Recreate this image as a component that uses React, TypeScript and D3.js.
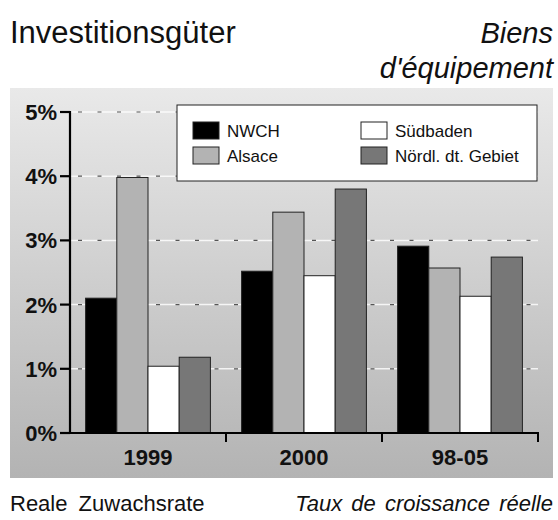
import React from 'react';
import * as d3 from 'd3';

const categories = ['1999', '2000', '98-05'];
const seriesNames = ['NWCH', 'Alsace', 'Südbaden', 'Nördl. dt. Gebiet'];
const nwch = [2.1, 2.52, 2.91];
const alsace = [3.98, 3.44, 2.57];
const suedbaden = [1.04, 2.45, 2.13];
const noerdl = [1.18, 3.8, 2.74];
const yTicks = [0, 1, 2, 3, 4, 5];

const seriesValues = [nwch, alsace, suedbaden, noerdl];
const colors = ['#000000', '#b3b3b3', '#ffffff', '#777777'];

const W = 558;
const H = 520;
const font = '"Liberation Sans", Arial, Helvetica, sans-serif';

const App = () => {
  const x0 = d3.scaleBand().domain(categories).range([70, 538]).paddingInner(0).paddingOuter(0);
  const x1 = d3.scaleBand().domain(seriesNames).range([0, x0.bandwidth()]).paddingInner(0).paddingOuter(0.5);
  const y = d3.scaleLinear().domain([0, 5]).range([433, 112]);

  // legend: two columns, two rows
  const legendItems = seriesNames.map((name, i) => ({
    name,
    color: colors[i],
    x: i < 2 ? 193 : 361,
    y: 122 + (i % 2) * 25,
  }));

  return (
    <svg width={W} height={H} style={{ position: 'absolute', left: 0, top: 0, fontFamily: font }}>
      <defs>
        <linearGradient id="bg" x1="0" y1="0" x2="0" y2="1">
          <stop offset="0%" stopColor="#e9e9e9" />
          <stop offset="100%" stopColor="#b3b3b3" />
        </linearGradient>
      </defs>
      <rect x={0} y={0} width={W} height={H} fill="#fff" />

      {/* titles */}
      <text x={10} y={43} fontSize={31} fill="#111">Investitionsgüter</text>
      <text x={553} y={43} fontSize={29} fontStyle="italic" textAnchor="end" fill="#111">Biens</text>
      <text x={553} y={78} fontSize={29} fontStyle="italic" textAnchor="end" fill="#111">d'équipement</text>

      <rect x={10} y={88} width={543} height={390} fill="url(#bg)" />

      {/* gridlines */}
      {yTicks.filter(t => t > 0).map(t => (
        <g key={t}>
          <line x1={70} x2={538} y1={y(t)} y2={y(t)} stroke="#ffffff" strokeOpacity={0.8} strokeWidth={1.5} />
          <line x1={70} x2={538} y1={y(t)} y2={y(t)} stroke="#555" strokeWidth={1.2} strokeDasharray="4,15.5" strokeDashoffset={-8} />
        </g>
      ))}

      {/* legend */}
      <rect x={177} y={105} width={360} height={76} fill="#fff" stroke="#222" strokeWidth={1} />
      {legendItems.map(d => (
        <g key={d.name}>
          <rect x={d.x} y={d.y} width={26} height={17} fill={d.color} stroke="#222" strokeWidth={1} />
          <text x={d.x + 34} y={d.y + 14.5} fontSize={17} fill="#111">{d.name}</text>
        </g>
      ))}

      {/* bars */}
      {categories.map((c, ci) => (
        <g key={c} transform={`translate(${x0(c)},0)`}>
          {seriesNames.map((s, si) => {
            const v = seriesValues[si][ci];
            return (
              <rect
                key={s}
                x={x1(s)}
                y={y(v)}
                width={x1.bandwidth()}
                height={y(0) - y(v)}
                fill={colors[si]}
                stroke="#222"
                strokeWidth={1}
              />
            );
          })}
        </g>
      ))}

      {/* axes */}
      <line x1={70} x2={70} y1={y(5) - 1} y2={y(0) + 1} stroke="#000" strokeWidth={2.2} />
      <line x1={69} x2={539} y1={y(0)} y2={y(0)} stroke="#000" strokeWidth={2.2} />
      {yTicks.map(t => (
        <g key={t}>
          <line x1={60} x2={70} y1={y(t)} y2={y(t)} stroke="#000" strokeWidth={2.2} />
          <text x={57} y={y(t) + 8} fontSize={22} fontWeight="bold" textAnchor="end" fill="#111">{`${t}%`}</text>
        </g>
      ))}
      {categories.map(c => (
        <g key={c}>
          <line x1={(x0(c) as number) + x0.bandwidth()} x2={(x0(c) as number) + x0.bandwidth()} y1={y(0)} y2={y(0) + 9} stroke="#000" strokeWidth={2} />
          <text x={(x0(c) as number) + x0.bandwidth() / 2} y={465} fontSize={22} fontWeight="bold" textAnchor="middle" fill="#111">{c}</text>
        </g>
      ))}

      {/* footer */}
      <text x={10} y={511} fontSize={22} fill="#111" style={{ wordSpacing: '5px' }}>Reale Zuwachsrate</text>
      <text x={553} y={511} fontSize={22} fontStyle="italic" textAnchor="end" fill="#111" style={{ wordSpacing: '3px' }}>Taux de croissance réelle</text>
    </svg>
  );
};

export default App;
